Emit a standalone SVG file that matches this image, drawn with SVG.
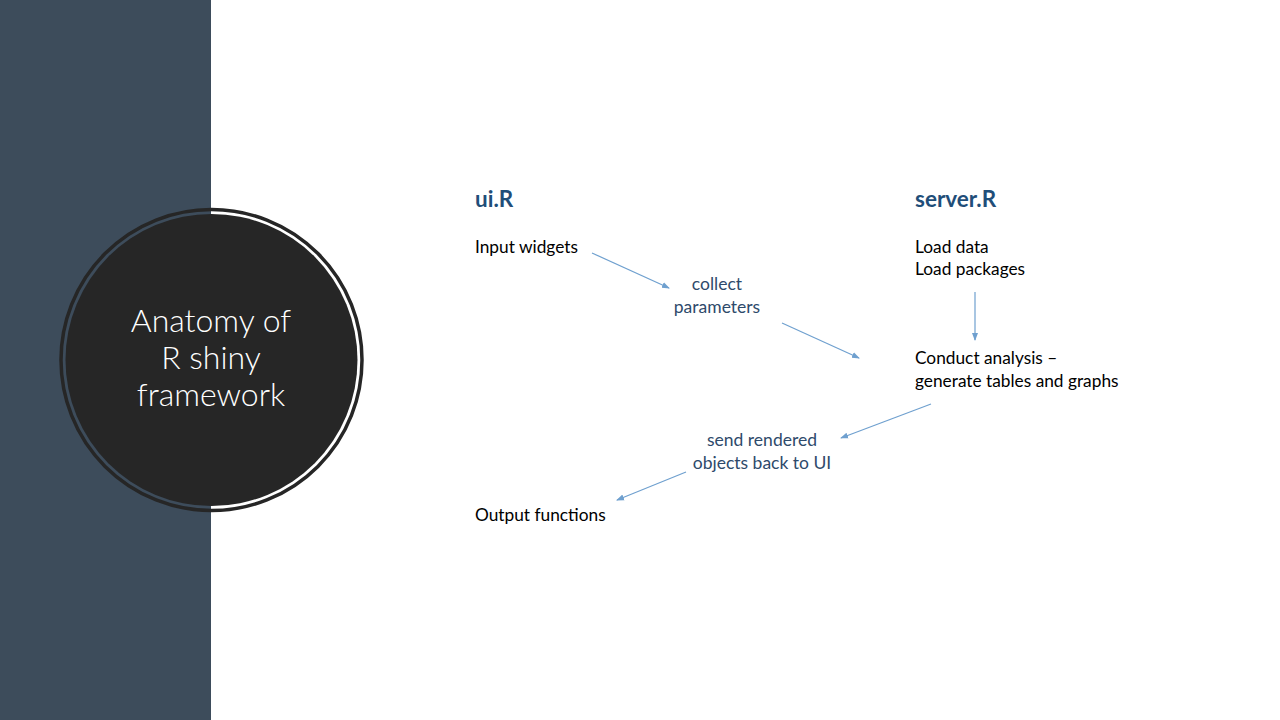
<svg xmlns="http://www.w3.org/2000/svg" width="1280" height="720" viewBox="0 0 1280 720">
<style>
.t{font-family:Lato,"Open Sans","Liberation Sans",sans-serif;font-size:17.3px;fill:#000}
.h{font-family:Lato,"Open Sans","Liberation Sans",sans-serif;font-size:22.5px;font-weight:bold;fill:#1f4e79}
.l{font-family:Lato,"Open Sans","Liberation Sans",sans-serif;font-size:17.5px;fill:#2e4a6b;text-anchor:middle}
.ti{font-family:Lato,"Open Sans","Liberation Sans",sans-serif;font-size:32px;font-weight:300;fill:#fff;text-anchor:middle}
.c{stroke:#6fa0cf;stroke-width:1.2;fill:none;marker-end:url(#ah)}
</style>
<defs>
<marker id="ah" markerWidth="8" markerHeight="8" refX="7" refY="4" orient="auto" markerUnits="userSpaceOnUse">
<path d="M0,1 L8,4 L0,7 Z" fill="#6fa0cf"/>
</marker>
</defs>
<rect width="1280" height="720" fill="#fff"/>
<rect x="0" y="0" width="211" height="720" fill="#3d4c5b"/>
<g id="title">
<circle cx="211.5" cy="360" r="150.5" fill="none" stroke="#262626" stroke-width="3.5"/>
<circle cx="211.5" cy="360" r="146" fill="#262626"/>
<text class="ti" x="211" y="332">Anatomy of</text>
<text class="ti" x="211" y="369">R shiny</text>
<text class="ti" x="211" y="406">framework</text>
</g>
<g id="ui"><text class="h" x="475" y="207">ui.R</text></g>
<g id="server"><text class="h" x="915" y="207">server.R</text></g>
<g id="input"><text class="t" x="475" y="253">Input widgets</text></g>
<g id="collect"><text class="l" x="717" y="290">collect</text><text class="l" x="717" y="313">parameters</text></g>
<g id="load"><text class="t" x="915" y="253">Load data</text><text class="t" x="915" y="275">Load packages</text></g>
<g id="conduct"><text class="t" x="915" y="364">Conduct analysis –</text><text class="t" x="915" y="387">generate tables and graphs</text></g>
<g id="send"><text class="l" x="762" y="446">send rendered</text><text class="l" x="762" y="469">objects back to UI</text></g>
<g id="output"><text class="t" x="475" y="521">Output functions</text></g>
<g id="connectors">
<line class="c" x1="592" y1="253" x2="669" y2="288"/>
<line class="c" x1="782" y1="323" x2="859" y2="358"/>
<line class="c" x1="975" y1="292" x2="975" y2="340"/>
<line class="c" x1="931" y1="404" x2="841" y2="438"/>
<line class="c" x1="686" y1="472" x2="617" y2="500"/>
</g>
</svg>
